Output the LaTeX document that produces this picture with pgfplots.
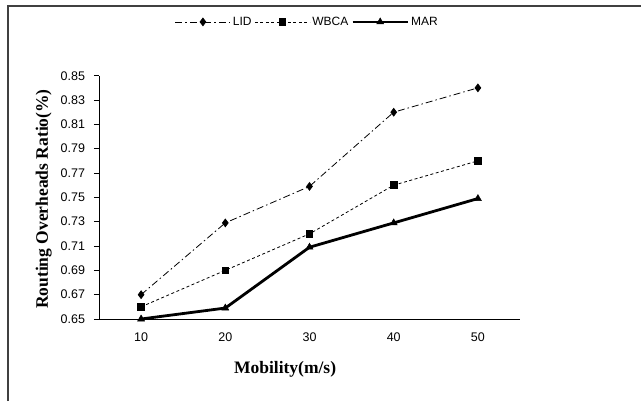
\documentclass[border=0pt]{standalone}
\usepackage{pgfplots}
\pgfplotsset{compat=1.18}
\usepackage{fontspec}
\setmainfont{Liberation Sans}
\newfontfamily\serifb{Liberation Serif}
\begin{document}
\begin{tikzpicture}[x=1bp,y=1bp]
\begin{axis}[
  scale only axis, width=421bp, height=243.3bp,
  xmin=5, xmax=55, ymin=0.65, ymax=0.85,
  axis x line=bottom, axis y line=left,
  axis line style={-, line width=0.8bp},
  xtick={10,20,30,40,50},
  major x tick style={draw=none},
  extra x ticks={15,25,35,45,55},
  extra x tick labels={},
  extra x tick style={tick style={draw=black, line width=0.8bp}, major tick length=5bp, tick align=outside},
  ytick={0.65,0.67,...,0.851},
  yticklabel style={/pgf/number format/fixed, /pgf/number format/fixed zerofill, /pgf/number format/precision=2, xshift=-5.5bp},
  major tick length=5bp,
  tick align=outside,
  tick style={line width=0.8bp, black},
  /pgf/number format/assume math mode=true,
  tick label style={font=\fontsize{12.5bp}{14bp}\selectfont},
  xticklabel style={yshift=-5bp},
  xlabel={Mobility(m/s)},
  ylabel={Routing Overheads Ratio(\%)},
  label style={font=\serifb\bfseries\fontsize{17.5bp}{19bp}\selectfont},
  xlabel style={at={(axis description cs:0.442,-0.205)}, anchor=center},
  ylabel style={at={(axis description cs:-0.131,0.493)}, anchor=center},
  legend columns=3,
  legend style={draw=none, fill=none, at={(axis description cs:0.495,1.221)}, anchor=center,
    font=\fontsize{12bp}{13bp}\selectfont, inner sep=0pt,
    /tikz/every even column/.append style={column sep=1bp}},
  legend image code/.code={\draw[mark repeat=2,mark phase=2] plot coordinates {(0bp,0bp) (27.5bp,0bp) (55bp,0bp)};},
  clip=false,
]
\coordinate (O) at (rel axis cs:0,0);
\addplot[black, line width=0.8bp, dash pattern=on 7bp off 3bp on 1.5bp off 3bp, mark=diamond*, mark size=3.8bp, mark options={solid}]
  coordinates {(10,0.670) (20,0.729) (30,0.759) (40,0.820) (50,0.840)};
\addlegendentry{LID}
\addplot[black, line width=0.8bp, dash pattern=on 3bp off 2.5bp, mark=square*, mark size=3.3bp, mark options={solid}]
  coordinates {(10,0.660) (20,0.690) (30,0.720) (40,0.760) (50,0.780)};
\addlegendentry{WBCA}
\addplot[black, line width=2.8bp, mark=triangle*, mark size=4bp, mark options={solid, line width=0.5bp}]
  coordinates {(10,0.650) (20,0.659) (30,0.709) (40,0.729) (50,0.749)};
\addlegendentry{MAR}
\end{axis}
\pgfresetboundingbox
\path[use as bounding box] ([shift={(-99,-82)}]O) rectangle ([shift={(542,319)}]O);
\draw[line width=1.3bp,black!75] ([shift={(-91,-82)}]O) -- ([shift={(-91,313)}]O) -- ([shift={(542,313)}]O);
\end{tikzpicture}
\end{document}
